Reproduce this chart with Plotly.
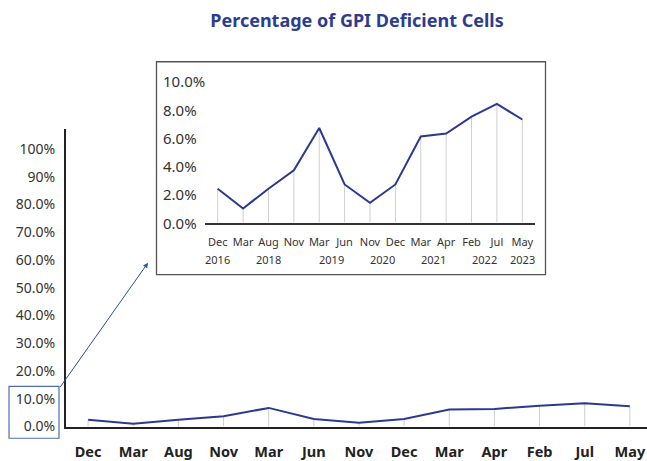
import plotly.graph_objects as go

# ---- data ----
months = ["Dec", "Mar", "Aug", "Nov", "Mar", "Jun", "Nov", "Dec", "Mar", "Apr", "Feb", "Jul", "May"]
values = [2.4, 1.0, 2.4, 3.7, 6.7, 2.7, 1.4, 2.7, 6.1, 6.3, 7.5, 8.4, 7.3]
year_labels = ["2016", "2018", "2019", "2020", "2021", "2022", "2023"]
year_index = [0, 2, 4.5, 6.5, 8.5, 10.5, 12]
main_tick_vals = [0, 10, 20, 30, 40, 50, 60, 70, 80, 90, 100]
main_tick_text = ["0.0%", "10.0%", "20.0%", "30.0%", "40.0%", "50.0%", "60.0%", "70.0%", "80.0%", "90%", "100%"]
inset_tick_vals = [0, 2, 4, 6, 8, 10]
inset_tick_text = ["0.0%", "2.0%", "4.0%", "6.0%", "8.0%", "10.0%"]

W, H = 647, 461
LINE = "#2b3990"
DROP = "#cfcfcf"
FONT = "Noto Sans"
idx = list(range(len(values)))

def px(x):
    return x / W

def py(y):
    return 1 - y / H

fig = go.Figure()

for xa, ya in (("x", "y"), ("x2", "y2")):
    fig.add_trace(go.Scatter(
        x=idx, y=values, mode="markers", xaxis=xa, yaxis=ya,
        marker=dict(size=1, opacity=0),
        error_y=dict(type="data", symmetric=False, array=[0] * len(values),
                     arrayminus=values, color=DROP, thickness=1, width=0),
        hoverinfo="skip", showlegend=False))
    fig.add_trace(go.Scatter(
        x=idx, y=values, mode="lines", xaxis=xa, yaxis=ya,
        line=dict(color=LINE, width=2), showlegend=False))

fig.update_layout(
    width=W, height=H,
    margin=dict(l=0, r=0, t=0, b=0),
    paper_bgcolor="white", plot_bgcolor="rgba(0,0,0,0)",
    font=dict(family=FONT, color="#333333"),
    title=dict(text="Percentage of GPI Deficient Cells", x=px(357), y=py(21),
               xanchor="center", yanchor="middle",
               font=dict(family=FONT, size=18, color="#2e3c8f", weight="bold")),
    xaxis=dict(domain=[px(66), 1.0], range=[-0.49, 12.38],
               tickvals=idx, ticktext=months,
               tickfont=dict(family=FONT, size=14.5, color="#222222", weight="bold"),
               ticks="outside", ticklen=11, tickcolor="rgba(0,0,0,0)",
               showgrid=False, zeroline=False,
               showline=True, linecolor="#222222", linewidth=2),
    yaxis=dict(domain=[py(435), py(132)], range=[0, 107],
               tickvals=main_tick_vals, ticktext=main_tick_text,
               tickfont=dict(family=FONT, size=14, color="#333333"),
               ticks="outside", ticklen=6, tickcolor="rgba(0,0,0,0)",
               showgrid=False, zeroline=False,
               showline=True, linecolor="#222222", linewidth=2),
    xaxis2=dict(domain=[px(205), px(535)], range=[-0.5, 12.5], anchor="y2",
                tickvals=idx, ticktext=months,
                tickfont=dict(family=FONT, size=11, color="#333333"),
                ticks="outside", ticklen=8, tickcolor="rgba(0,0,0,0)",
                showgrid=False, zeroline=False,
                showline=True, linecolor="#333333", linewidth=1.5),
    yaxis2=dict(domain=[py(227), py(77)], range=[0, (227 - 77) / 14.4], anchor="x2",
                showticklabels=False, ticks="", showgrid=False, zeroline=False,
                showline=False),
)

# inset frame
fig.add_shape(type="rect", xref="paper", yref="paper",
              x0=px(156.5), x1=px(545.5), y0=py(280), y1=py(63),
              line=dict(color="#555555", width=1.3), fillcolor="rgba(0,0,0,0)", layer="below")
# highlight box around low range labels
fig.add_shape(type="rect", xref="paper", yref="paper",
              x0=px(9), x1=px(59), y0=py(447), y1=py(394),
              line=dict(color="#4e6eb0", width=1.2), fillcolor="rgba(0,0,0,0)")

# arrow to inset
fig.add_annotation(x=px(148), y=py(268), xref="paper", yref="paper",
                   ax=59 - 148, ay=394 - 268, text="", showarrow=True,
                   arrowhead=2, arrowsize=1, arrowwidth=1, arrowcolor="#2a4ea0")

# inset y labels (left aligned)
for v, t in zip(inset_tick_vals, inset_tick_text):
    fig.add_annotation(x=px(161), y=v, xref="paper", yref="y2", text=t,
                       showarrow=False, xanchor="left", yanchor="middle",
                       font=dict(family=FONT, size=15, color="#333333"))

# inset year labels
for xi, t in zip(year_index, year_labels):
    fig.add_annotation(x=xi, y=py(265), xref="x2", yref="paper", text=t,
                       showarrow=False, xanchor="center", yanchor="middle",
                       font=dict(family=FONT, size=11, color="#333333"))

fig.write_html("out.html", config={"displayModeBar": False},
               post_script="document.body.style.margin='0';document.body.style.overflow='hidden';")
